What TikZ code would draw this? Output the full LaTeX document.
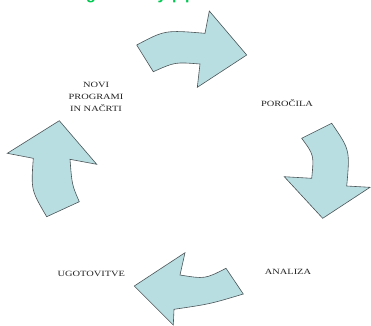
\documentclass[tikz,border=0pt]{standalone}
\usepackage{fontspec}
\setmainfont{Liberation Serif}
\newfontfamily\greenfont{Liberation Sans}
\definecolor{arrowfill}{RGB}{185,222,226}
\definecolor{arrowedge}{RGB}{75,85,88}
\definecolor{labeltext}{RGB}{35,35,35}
\definecolor{titlegreen}{RGB}{0,200,80}
\begin{document}
\begin{tikzpicture}[x=1pt,y=-1pt,
  cyclearrow/.style={fill=arrowfill,draw=arrowedge,line width=0.6pt,line join=miter},
  steplabel/.style={font=\fontsize{8}{11.7}\selectfont,text=labeltext,xscale=1.3,align=center,inner sep=0pt},
  titlebit/.style={font=\greenfont\bfseries\fontsize{16}{16}\selectfont,text=titlegreen,inner sep=0pt,anchor=base}]
\useasboundingbox (0,0) rectangle (371,325);
\fill[white] (0,0) rectangle (371,325);
% clipped title (only descenders visible)
\begin{scope}
\clip (0,0) rectangle (371,3.5);
\node[titlebit] (t1) at (91,-1) {g};
\node[titlebit] (t2) at (162,-1) {y};
\node[titlebit] (t3) at (177,-1) {p};
\node[titlebit] (t4) at (190,-1) {p};
\end{scope}
% top arrow
\draw[cyclearrow] (136.7,45) .. controls (165,30) .. (205,33.3) -- (209.3,11) -- (246.7,55)
  -- (197.3,87.3) -- (200,64) .. controls (175,62) .. (153.3,71.7) -- cycle;
% right arrow
\draw[cyclearrow] (301.7,138.3) -- (331.7,123.3) .. controls (350,150) .. (346.7,186)
  -- (370,187.3) -- (322.7,218.3) -- (284.3,176.7) -- (311.7,178.3)
  .. controls (314,155) .. cycle;
% bottom arrow
\draw[cyclearrow] (185,252.7) -- (180,275) .. controls (205,279) .. (226,268.3)
  -- (243.3,294) .. controls (210,304) .. (174,309.3) -- (173.3,325) -- (134.3,286) -- cycle;
% left arrow
\draw[cyclearrow] (59.3,120.7) -- (96.7,164.3) -- (70,159.3) .. controls (72,185) .. (79.3,201.7)
  -- (46.7,216.7) .. controls (31,190) .. (33.3,158.3) -- (7.3,153.3) -- cycle;
% labels
\node[steplabel] (novi) at (96,96.7) {NOVI\\PROGRAMI\\IN NAČRTI};
\node[steplabel] (porocila) at (287,103.3) {POROČILA};
\node[steplabel] (analiza) at (288,271.7) {ANALIZA};
\node[steplabel] (ugotovitve) at (91.3,273.7) {UGOTOVITVE};
\end{tikzpicture}
\end{document}
